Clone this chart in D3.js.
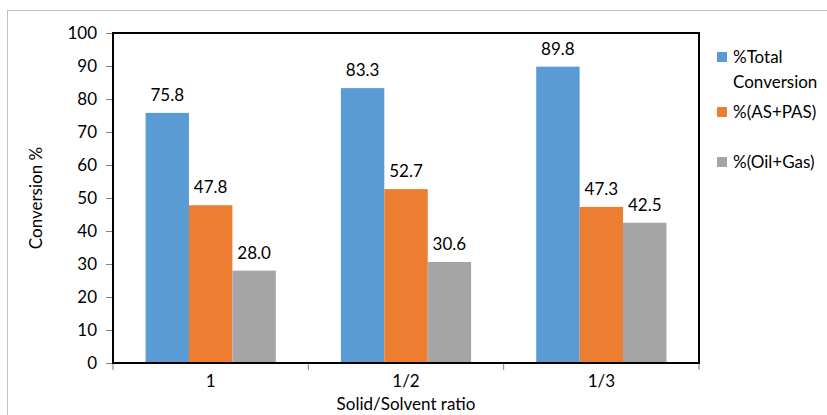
<!DOCTYPE html>
<html>
<head>
<meta charset="utf-8">
<script src="https://cdn.jsdelivr.net/npm/d3@7"></script>
<style>
  html, body { margin: 0; padding: 0; background: #fff; }
  svg { display: block; font-family: Lato, "Open Sans", sans-serif; }
</style>
</head>
<body>
<svg id="chart" width="827" height="415"></svg>
<script>
// Solid/solvent ratio categories and conversion results (%)
const categories = ["1", "1/2", "1/3"];
const seriesNames = ["%Total Conversion", "%(AS+PAS)", "%(Oil+Gas)"];
const totalConversion = [75.8, 83.3, 89.8];
const asPas = [47.8, 52.7, 47.3];
const oilGas = [28.0, 30.6, 42.5];
const yTicks = [0, 10, 20, 30, 40, 50, 60, 70, 80, 90, 100];
const colors = ["#5B9BD5", "#ED7D31", "#A5A5A5"];

const seriesValues = [totalConversion, asPas, oilGas];
const rows = categories.map((c, i) => ({
  cat: c,
  vals: seriesValues.map((s, k) => ({ key: seriesNames[k], k, v: s[i] }))
}));

const svg = d3.select("#chart");
const plot = { left: 113, top: 33, right: 699, bottom: 363 };

// outer chart frame
svg.append("rect")
  .attr("x", 7.5).attr("y", 10.5)
  .attr("width", 900).attr("height", 500)
  .attr("fill", "none").attr("stroke", "#BFBFBF").attr("stroke-width", 1);

const x = d3.scaleBand().domain(categories).range([plot.left, plot.right]).paddingInner(0).paddingOuter(0);
const x1 = d3.scaleBand().domain(d3.range(seriesNames.length))
  .range([0, x.bandwidth()]).paddingOuter(0.75).paddingInner(0);
const y = d3.scaleLinear().domain([0, 100]).range([plot.bottom, plot.top]);

// bars
const groups = svg.append("g").selectAll("g").data(rows).join("g")
  .attr("transform", d => `translate(${x(d.cat)},0)`);
groups.selectAll("rect").data(d => d.vals).join("rect")
  .attr("x", d => x1(d.k))
  .attr("y", d => y(d.v))
  .attr("width", x1.bandwidth())
  .attr("height", d => y(0) - y(d.v))
  .attr("fill", d => colors[d.k]);

// value labels
groups.selectAll("text").data(d => d.vals).join("text")
  .attr("x", d => x1(d.k) + x1.bandwidth() / 2)
  .attr("y", d => y(d.v) - 12)
  .attr("text-anchor", "middle")
  .attr("font-size", 17)
  .attr("fill", "#000")
  .text(d => d.v.toFixed(1));

// y axis
const yAxis = svg.append("g").attr("transform", `translate(${plot.left},0)`)
  .call(d3.axisLeft(y).tickValues(yTicks).tickSize(7).tickPadding(9).tickSizeOuter(0));
yAxis.select(".domain").remove();
yAxis.selectAll(".tick line").attr("stroke", "#808080");
yAxis.selectAll(".tick text").attr("font-size", 17).attr("font-family", "Lato, sans-serif").attr("fill", "#000");

// x axis
const xAxis = svg.append("g").attr("transform", `translate(0,${plot.bottom})`)
  .call(d3.axisBottom(x).tickSize(0).tickPadding(12));
xAxis.select(".domain").remove();
xAxis.selectAll(".tick text").attr("font-size", 17).attr("font-family", "Lato, sans-serif").attr("fill", "#000");

// category boundary ticks
const bounds = categories.map(c => x(c)).concat([plot.right]);
svg.append("g").selectAll("line").data(bounds).join("line")
  .attr("x1", d => d).attr("x2", d => d)
  .attr("y1", plot.bottom).attr("y2", plot.bottom + 7)
  .attr("stroke", "#808080");

// plot area frame
svg.append("rect")
  .attr("x", plot.left).attr("y", plot.top)
  .attr("width", plot.right - plot.left).attr("height", plot.bottom - plot.top)
  .attr("fill", "none").attr("stroke", "#000").attr("stroke-width", 2);

// axis titles
svg.append("text")
  .attr("transform", `translate(42,${(plot.top + plot.bottom) / 2}) rotate(-90)`)
  .attr("text-anchor", "middle").attr("font-size", 17).text("Conversion %");
svg.append("text")
  .attr("x", (plot.left + plot.right) / 2).attr("y", 410)
  .attr("text-anchor", "middle").attr("font-size", 17).text("Solid/Solvent ratio");

// legend
const legendItems = [
  { k: 0, lines: ["%Total", "Conversion"], y: 57 },
  { k: 1, lines: ["%(AS+PAS)"], y: 112 },
  { k: 2, lines: ["%(Oil+Gas)"], y: 162 }
];
const lg = svg.append("g").selectAll("g").data(legendItems).join("g");
lg.append("rect")
  .attr("x", 717).attr("y", d => d.y - 5)
  .attr("width", 10).attr("height", 10)
  .attr("fill", d => colors[d.k]);
lg.append("text")
  .attr("x", 733).attr("y", d => d.y + 6)
  .attr("font-size", 17)
  .selectAll("tspan").data(d => d.lines).join("tspan")
  .attr("x", 733).attr("dy", (d, i) => i === 0 ? 0 : 25)
  .text(d => d);
</script>
</body>
</html>
